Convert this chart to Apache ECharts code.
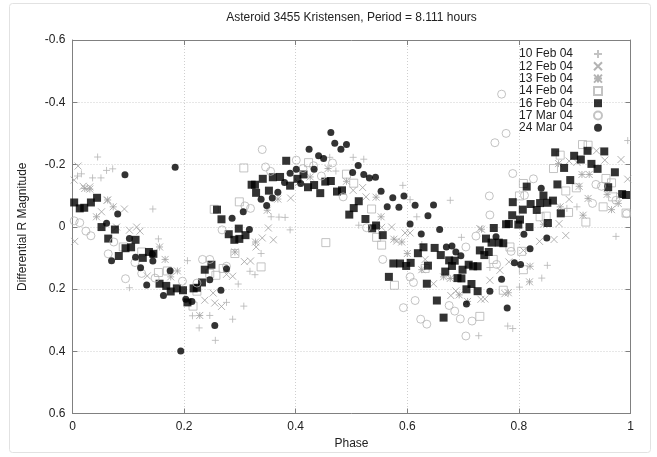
<!DOCTYPE html>
<html>
<head>
<meta charset="utf-8">
<script src="https://cdn.jsdelivr.net/npm/echarts@6/dist/echarts.min.js"></script>
<style>
html,body{margin:0;padding:0;background:#fff;}
#chart{width:657px;height:457px;}
</style>
</head>
<body>
<div id="chart"></div>
<script>
const titleText = 'Asteroid 3455 Kristensen, Period = 8.111 hours';
const xName = 'Phase';
const yName = 'Differential R Magnitude';
const seriesNames = ['10 Feb 04', '12 Feb 04', '13 Feb 04', '14 Feb 04', '16 Feb 04', '17 Mar 04', '24 Mar 04'];

const feb10 = [[0.009,-0.163],[0.016,-0.170],[0.036,-0.157],[0.045,-0.224],[0.051,-0.157],[0.061,-0.181],[0.072,-0.186],
[0.102,0.196],[0.144,-0.057],[0.154,0.039],[0.206,0.109],[0.215,0.286],[0.227,0.325],[0.246,0.285],[0.256,0.365],
[0.276,0.243],[0.287,0.297],[0.297,0.184],[0.307,0.255],[0.318,0.143],[0.327,0.154],[0.338,0.086],[0.356,-0.032],
[0.370,-0.031],[0.381,-0.030],[0.390,0.010],[0.461,-0.223],[0.472,-0.179],[0.503,-0.223],[0.522,-0.217],[0.513,-0.005],
[0.592,-0.133],[0.605,-0.087],[0.617,-0.032],[0.626,0.057],[0.677,-0.085],[0.697,0.034],[0.728,0.350],[0.748,0.131],
[0.780,0.319],[0.789,0.327],[0.801,0.194],[0.841,0.165],[0.851,0.124],[0.886,-0.059],[0.904,-0.064],[0.974,0.031],[0.995,-0.277]];

const feb12 = [[0.003,-0.150],[0.004,0.047],[0.010,-0.195],[0.019,-0.130],[0.031,-0.128],[0.052,-0.048],[0.062,-0.085],
[0.079,0.001],[0.093,-0.057],[0.102,0.011],[0.115,0.001],[0.121,0.014],[0.134,0.158],[0.237,0.236],[0.252,0.213],
[0.255,0.245],[0.267,0.256],[0.276,0.153],[0.287,0.159],[0.308,0.112],[0.319,0.110],[0.329,0.065],[0.340,0.036],
[0.351,0.004],[0.360,0.042],[0.391,-0.092],[0.405,-0.142],[0.503,-0.117],[0.520,-0.126],[0.526,-0.096],[0.554,0.002],
[0.572,0.001],[0.581,0.046],[0.596,0.020],[0.605,0.020],[0.632,0.105],[0.647,0.183],[0.678,0.221],[0.687,0.206],
[0.730,0.006],[0.732,0.233],[0.739,0.232],[0.748,0.172],[0.766,0.140],[0.775,0.215],[0.782,0.113],[0.808,0.076],
[0.837,0.047],[0.863,0.041],[0.872,-0.010],[0.884,0.028],[0.890,-0.211],[0.890,-0.088],[0.904,-0.207],[0.939,-0.244],
[0.954,-0.214],[0.981,-0.100],[0.983,-0.216],[0.995,-0.153]];

const feb13 = [[0.022,-0.123],[0.031,-0.121],[0.043,-0.032],[0.063,-0.086],[0.073,-0.064],[0.156,0.065],[0.166,0.105],
[0.176,0.161],[0.188,0.142],[0.228,0.285],[0.291,0.081],[0.328,0.049],[0.349,-0.053],[0.368,-0.089],[0.426,-0.160],
[0.458,-0.187],[0.491,-0.146],[0.544,-0.095],[0.553,-0.032],[0.576,0.040],[0.590,0.049],[0.600,0.086],[0.626,0.138],
[0.665,0.161],[0.677,0.166],[0.693,0.219],[0.708,0.240],[0.733,0.008],[0.781,0.212],[0.819,0.177],[0.820,0.127],
[0.844,-0.008],[0.871,-0.203],[0.874,-0.064],[0.908,-0.130],[0.913,-0.168],[0.915,-0.037],[0.924,-0.091],[0.926,-0.168],
[0.958,-0.104],[0.966,-0.055],[0.978,-0.075]];

const feb14 = [[0.091,0.065],[0.124,0.081],[0.154,0.147],[0.170,0.142],[0.216,0.255],[0.223,0.207],[0.246,0.150],
[0.254,-0.056],[0.257,0.156],[0.270,0.134],[0.291,0.086],[0.299,-0.080],[0.307,-0.189],[0.338,0.129],[0.423,-0.206],
[0.454,0.051],[0.491,-0.169],[0.504,-0.140],[0.536,-0.057],[0.545,0.034],[0.554,0.059],[0.577,0.188],[0.632,0.134],
[0.730,0.288],[0.754,0.105],[0.772,0.204],[0.784,0.065],[0.801,-0.099],[0.805,0.079],[0.808,-0.139],[0.808,0.138],
[0.838,-0.032],[0.849,-0.034],[0.862,-0.187],[0.874,-0.230],[0.884,-0.115],[0.889,-0.046],[0.903,-0.125],[0.914,-0.264],
[0.920,-0.015],[0.924,-0.262],[0.951,-0.064],[0.956,-0.155],[0.966,-0.141],[0.968,-0.096],[0.992,-0.044]];

const feb16 = [[0.003,-0.078],[0.013,-0.059],[0.021,-0.061],[0.033,-0.078],[0.044,-0.093],[0.052,0.001],[0.064,0.038],
[0.076,0.009],[0.083,0.094],[0.095,0.069],[0.105,0.066],[0.113,0.042],[0.126,0.100],[0.137,0.081],[0.145,0.087],
[0.156,0.183],[0.168,0.190],[0.176,0.208],[0.187,0.198],[0.198,0.204],[0.206,0.243],[0.217,0.198],[0.223,0.196],
[0.232,0.179],[0.237,0.138],[0.249,0.122],[0.259,-0.055],[0.267,-0.024],[0.280,0.024],[0.290,0.042],[0.298,0.006],
[0.299,0.039],[0.310,0.027],[0.321,-0.135],[0.327,-0.135],[0.329,-0.109],[0.341,-0.154],[0.352,-0.116],[0.359,-0.159],
[0.372,-0.160],[0.383,-0.212],[0.390,-0.132],[0.403,-0.154],[0.414,-0.168],[0.422,-0.127],[0.433,-0.134],[0.444,-0.108],
[0.453,-0.145],[0.463,-0.147],[0.474,-0.113],[0.483,-0.117],[0.496,-0.039],[0.504,-0.060],[0.513,-0.082],[0.525,-0.025],
[0.537,0.005],[0.544,-0.004],[0.556,0.027],[0.567,0.161],[0.575,0.118],[0.587,0.118],[0.598,0.126],[0.606,0.116],
[0.619,0.085],[0.629,0.066],[0.635,0.183],[0.637,0.125],[0.649,0.068],[0.653,0.237],[0.660,0.091],[0.665,0.292],
[0.668,0.144],[0.675,0.108],[0.680,0.126],[0.685,0.109],[0.690,0.165],[0.697,0.166],[0.699,0.138],[0.706,0.201],
[0.710,0.122],[0.715,0.184],[0.718,0.127],[0.726,0.127],[0.726,0.207],[0.730,0.076],[0.738,0.091],[0.741,0.038],
[0.746,0.081],[0.751,0.051],[0.755,0.004],[0.764,0.051],[0.772,0.053],[0.777,-0.008],[0.782,-0.009],[0.788,-0.037],
[0.789,-0.079],[0.799,-0.007],[0.802,-0.023],[0.807,-0.055],[0.814,-0.129],[0.819,0.001],[0.821,-0.073],[0.832,-0.054],
[0.838,-0.076],[0.844,-0.100],[0.851,-0.077],[0.852,-0.012],[0.861,-0.084],[0.865,-0.239],[0.869,-0.136],[0.875,-0.043],
[0.881,-0.189],[0.892,-0.150],[0.899,-0.228],[0.911,-0.216],[0.923,-0.244],[0.930,-0.202],[0.941,-0.186],[0.953,-0.242],
[0.960,-0.127],[0.972,-0.175],[0.985,-0.105],[0.992,-0.102]];

const mar17 = [[0.003,-0.019],[0.013,-0.013],[0.024,0.014],[0.033,0.029],[0.064,0.087],[0.074,0.049],[0.095,0.167],
[0.112,0.115],[0.124,0.150],[0.148,0.165],[0.197,0.175],[0.223,0.181],[0.233,0.105],[0.246,0.105],[0.268,0.010],
[0.276,0.127],[0.309,-0.067],[0.319,-0.059],[0.340,-0.248],[0.346,-0.192],[0.355,-0.178],[0.401,-0.214],[0.413,-0.187],
[0.432,-0.196],[0.446,-0.163],[0.466,-0.205],[0.485,-0.096],[0.527,0.003],[0.556,0.105],[0.593,0.260],[0.605,0.161],
[0.611,0.179],[0.614,0.237],[0.624,0.297],[0.635,0.313],[0.675,0.253],[0.685,0.271],[0.695,0.296],[0.705,0.065],
[0.705,0.351],[0.716,0.303],[0.723,0.030],[0.747,-0.099],[0.748,-0.038],[0.757,-0.270],[0.760,0.121],[0.769,-0.426],
[0.777,-0.300],[0.786,0.079],[0.789,-0.171],[0.810,-0.101],[0.826,-0.154],[0.932,-0.075],[0.938,-0.136],[0.948,-0.130],
[0.974,-0.085],[0.993,-0.042]];

const mar24 = [[0.061,-0.011],[0.070,0.109],[0.081,-0.041],[0.094,-0.167],[0.102,0.038],[0.113,0.098],[0.122,0.132],
[0.133,0.187],[0.143,0.088],[0.144,0.110],[0.163,0.221],[0.175,0.141],[0.184,-0.191],[0.194,0.399],[0.203,0.233],
[0.214,0.240],[0.246,0.170],[0.255,0.317],[0.266,0.204],[0.276,0.135],[0.286,-0.027],[0.306,-0.048],[0.317,0.009],
[0.338,-0.088],[0.348,-0.068],[0.358,-0.092],[0.368,-0.111],[0.380,-0.142],[0.390,-0.172],[0.401,-0.185],[0.409,-0.139],
[0.424,-0.249],[0.433,-0.185],[0.441,-0.228],[0.450,-0.219],[0.463,-0.303],[0.470,-0.268],[0.481,-0.249],[0.491,-0.264],
[0.502,-0.174],[0.512,-0.197],[0.522,-0.168],[0.532,-0.157],[0.543,-0.159],[0.553,-0.114],[0.564,-0.064],[0.574,-0.093],
[0.585,-0.063],[0.594,-0.099],[0.605,-0.009],[0.614,-0.069],[0.625,0.023],[0.637,-0.035],[0.647,-0.070],[0.658,0.009],
[0.670,0.065],[0.680,0.062],[0.687,0.081],[0.696,0.093],[0.706,0.248],[0.748,0.207],[0.759,0.032],[0.769,0.169],
[0.779,0.261],[0.792,0.116],[0.803,0.121],[0.809,0.024],[0.820,0.071],[0.840,-0.124],[0.850,0.036]];

const xTicks = [0, 0.2, 0.4, 0.6, 0.8, 1];
const yTicks = [-0.6, -0.4, -0.2, 0, 0.2, 0.4, 0.6];

const plusPath = 'path://M0,5L10,5M5,0L5,10';
const crossPath = 'path://M0,0L10,10M10,0L0,10';
const starPath = 'path://M0,0L10,10M10,0L0,10M5,0L5,10M0,5L10,5';
const squarePath = 'path://M0,0L10,0L10,10L0,10Z';

const styles = [
  {symbol: plusPath, size: 7, itemStyle: {color: 'transparent', borderColor: '#b4b4b4', borderWidth: 1}},
  {symbol: crossPath, size: 7, itemStyle: {color: 'transparent', borderColor: '#a0a0a0', borderWidth: 1}},
  {symbol: starPath, size: 7, itemStyle: {color: 'transparent', borderColor: '#a0a0a0', borderWidth: 1}},
  {symbol: squarePath, size: 8, itemStyle: {color: 'transparent', borderColor: '#b4b4b4', borderWidth: 1}},
  {symbol: squarePath, size: 8, itemStyle: {color: '#000', borderWidth: 0}},
  {symbol: 'circle', size: 8, itemStyle: {color: 'transparent', borderColor: '#b4b4b4', borderWidth: 1}},
  {symbol: 'circle', size: 7, itemStyle: {color: '#000', borderWidth: 0}}
];
const datasets = [feb10, feb12, feb13, feb14, feb16, mar17, mar24];

const axisCol = '#808080';
const labelCol = '#222';
const font = 'Liberation Sans, Arial, sans-serif';

const chart = echarts.init(document.getElementById('chart'), null, {renderer: 'canvas'});
const option = {
  animation: false,
  backgroundColor: '#fff',
  textStyle: {fontFamily: font},
  title: {
    text: titleText, left: 351.5, top: 11.5, textAlign: 'center', padding: 0,
    textStyle: {fontSize: 12, fontWeight: 'normal', color: labelCol, fontFamily: font}
  },
  graphic: [{
    type: 'rect', silent: true, z: -1,
    shape: {x: 9.5, y: 3.5, width: 641, height: 449, r: 3},
    style: {fill: 'none', stroke: '#e2e2e2', lineWidth: 1}
  }],
  legend: {
    data: seriesNames,
    orient: 'vertical', align: 'right',
    right: 54, top: 48, padding: 0,
    itemWidth: 40, itemHeight: 8, itemGap: 0.3,
    textStyle: {fontSize: 12, color: labelCol, fontFamily: font, lineHeight: 12}
  },
  grid: {left: 72.5, right: 26.5, top: 40, bottom: 43.5},
  xAxis: [{
    type: 'value', min: xTicks[0], max: xTicks[xTicks.length - 1], interval: 0.2,
    name: xName, nameLocation: 'middle', nameGap: 21,
    nameTextStyle: {fontSize: 12, color: labelCol, fontFamily: font},
    axisLine: {onZero: false, lineStyle: {color: axisCol}},
    axisTick: {inside: true, length: 5, lineStyle: {color: axisCol}},
    axisLabel: {fontSize: 12, color: labelCol, margin: 7, fontFamily: font},
    splitLine: {show: true, lineStyle: {type: [1, 2], color: '#cfcfcf'}}
  }, {
    type: 'value', position: 'top', min: xTicks[0], max: xTicks[xTicks.length - 1], interval: 0.2,
    axisLine: {show: true, onZero: false, lineStyle: {color: axisCol}},
    axisTick: {inside: true, length: 5, lineStyle: {color: axisCol}},
    axisLabel: {show: false}, splitLine: {show: false}
  }],
  yAxis: [{
    type: 'value', inverse: true, min: yTicks[0], max: yTicks[yTicks.length - 1], interval: 0.2,
    name: yName, nameLocation: 'middle', nameGap: 44, nameRotate: 90,
    nameTextStyle: {fontSize: 12, color: labelCol, fontFamily: font},
    axisLine: {show: true, onZero: false, lineStyle: {color: axisCol}},
    axisTick: {show: true, inside: true, length: 5, lineStyle: {color: axisCol}},
    axisLabel: {fontSize: 12, color: labelCol, margin: 7, fontFamily: font},
    splitLine: {show: true, lineStyle: {type: [1, 2], color: '#cfcfcf'}}
  }, {
    type: 'value', position: 'right', inverse: true, min: yTicks[0], max: yTicks[yTicks.length - 1], interval: 0.2,
    axisLine: {show: true, onZero: false, lineStyle: {color: axisCol}},
    axisTick: {show: true, inside: true, length: 5, lineStyle: {color: axisCol}},
    axisLabel: {show: false}, splitLine: {show: false}
  }],
  series: datasets.map((d, i) => ({
    name: seriesNames[i], type: 'scatter', xAxisIndex: 0, yAxisIndex: 0,
    data: d, symbol: styles[i].symbol, symbolSize: styles[i].size,
    itemStyle: styles[i].itemStyle,
    emphasis: {disabled: true}
  }))
};
chart.setOption(option);
</script>
</body>
</html>
